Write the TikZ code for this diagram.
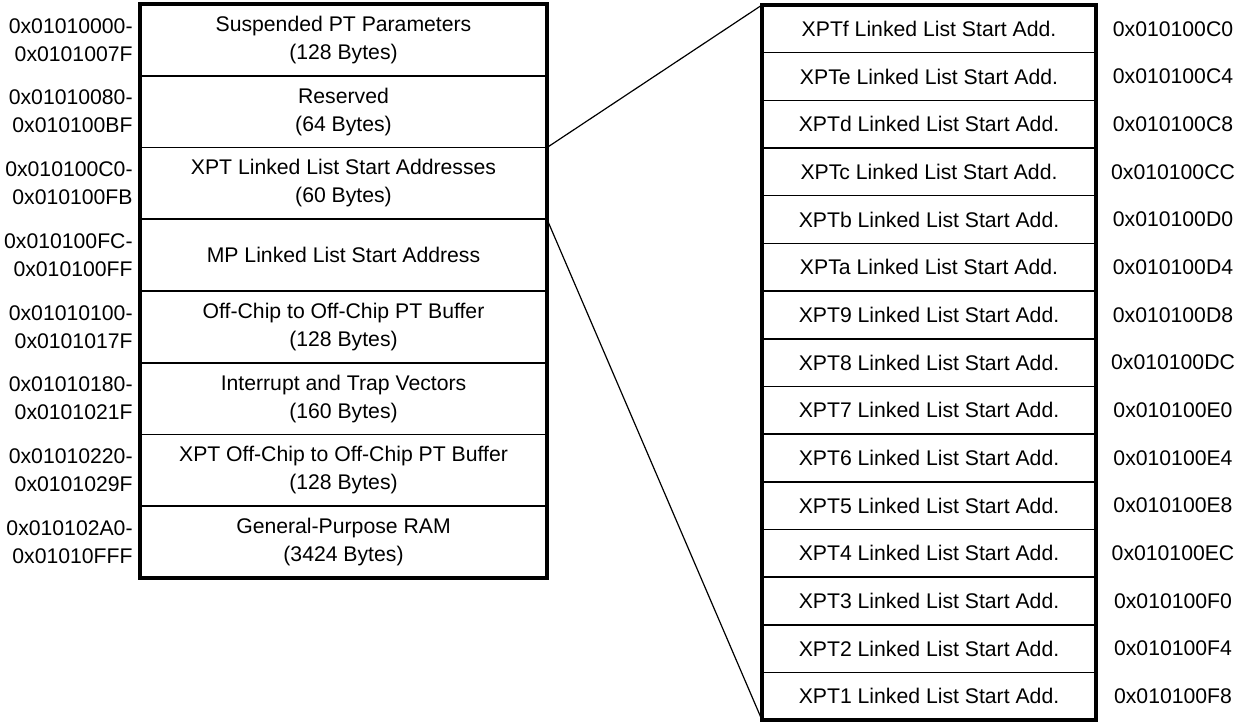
\documentclass[tikz,border=0pt]{standalone}
\usepackage{fontspec}
\setmainfont{Liberation Sans}
\usetikzlibrary{positioning}

\begin{document}
\begin{tikzpicture}[x = 0.5pt, y = -0.5pt, font = \fontsize{10.6}{14}\selectfont]
	\tikzstyle{memStyle} = [draw, line width = 0.8pt, outer sep = 0pt, minimum width = 203.5pt, minimum height = 35.875pt, inner sep = 0pt, align = center]
	\tikzstyle{listStyle} = [draw, line width = 0.8pt, outer sep = 0pt, minimum width = 167pt, minimum height = 23.83pt, inner sep = 0pt]
	\tikzstyle{addrStyle} = [anchor = east, align = right, inner sep = 0pt]
	\tikzstyle{frameStyle} = [line width = 2pt]
	\useasboundingbox (0,0) rectangle (1241,723);
	% memory map
	\node[memStyle] (m1) at (343.5, 39.9) {Suspended PT Parameters\\(128 Bytes)};
	\node[memStyle, below = 0pt of m1] (m2) {Reserved\\(64 Bytes)};
	\node[memStyle, below = 0pt of m2] (m3) {XPT Linked List Start Addresses\\(60 Bytes)};
	\node[memStyle, below = 0pt of m3] (m4) {MP Linked List Start Address};
	\node[memStyle, below = 0pt of m4] (m5) {Off-Chip to Off-Chip PT Buffer\\(128 Bytes)};
	\node[memStyle, below = 0pt of m5] (m6) {Interrupt and Trap Vectors\\(160 Bytes)};
	\node[memStyle, below = 0pt of m6] (m7) {XPT Off-Chip to Off-Chip PT Buffer\\(128 Bytes)};
	\node[memStyle, below = 0pt of m7] (m8) {General-Purpose RAM\\(3424 Bytes)};
	\draw[frameStyle] (m1.north west) rectangle (m8.south east);
	\node[addrStyle, left = 3.5pt of m1] (a1) {0x01010000-\\0x0101007F};
	\node[addrStyle, left = 3.5pt of m2] (a2) {0x01010080-\\0x010100BF};
	\node[addrStyle, left = 3.5pt of m3] (a3) {0x010100C0-\\0x010100FB};
	\node[addrStyle, left = 3.5pt of m4] (a4) {0x010100FC-\\0x010100FF};
	\node[addrStyle, left = 3.5pt of m5] (a5) {0x01010100-\\0x0101017F};
	\node[addrStyle, left = 3.5pt of m6] (a6) {0x01010180-\\0x0101021F};
	\node[addrStyle, left = 3.5pt of m7] (a7) {0x01010220-\\0x0101029F};
	\node[addrStyle, left = 3.5pt of m8] (a8) {0x010102A0-\\0x01010FFF};
	% linked list start addresses
	\foreach \n/\x [count=\i] in {f/C0, e/C4, d/C8, c/CC, b/D0, a/D4, 9/D8, 8/DC, 7/E0, 6/E4, 5/E8, 4/EC, 3/F0, 2/F4, 1/F8} {
		\node[listStyle] (x\i) at (929, 5 + 47.67*\i - 23.83) {XPT\n{} Linked List Start Add.};
		\node (h\i) at (1173, 5 + 47.67*\i - 23.83) {0x010100\x};
	}
	\draw[frameStyle] (x1.north west) rectangle (x15.south east);
	\draw[line width = 0.6pt] (m3.north east) -- (x1.north west);
	\draw[line width = 0.6pt] (m3.south east) -- (x15.south west);
\end{tikzpicture}
\end{document}
